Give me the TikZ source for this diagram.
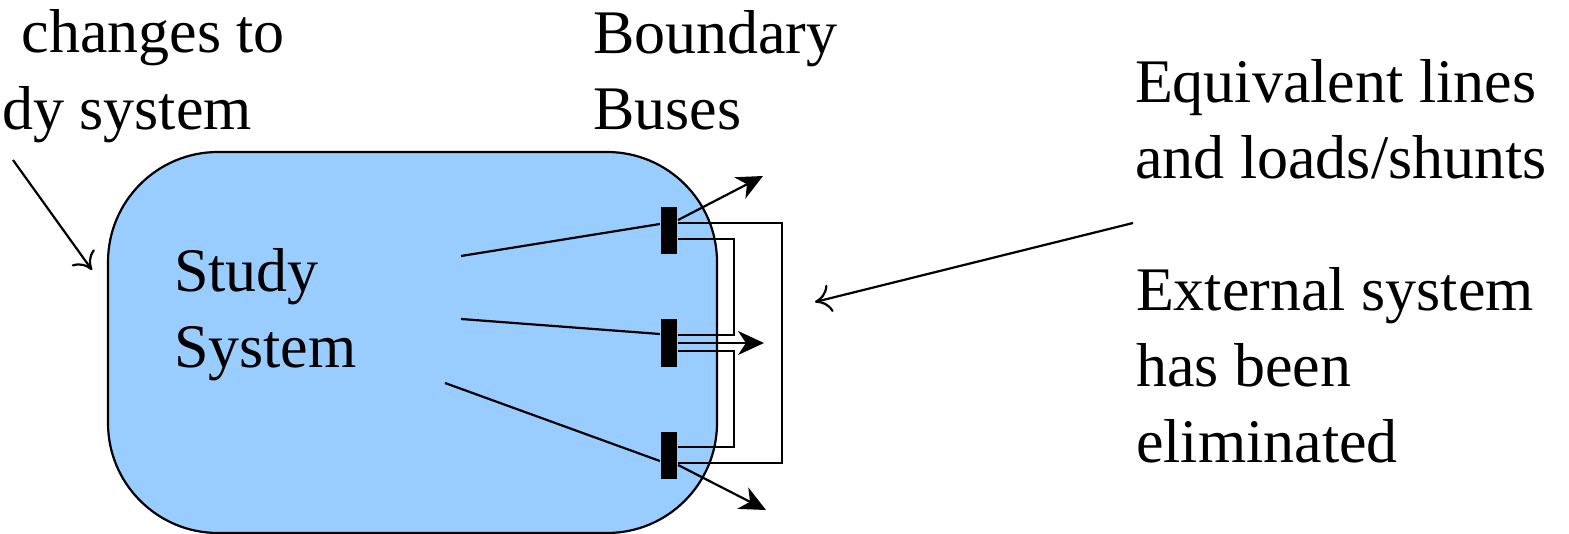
\documentclass[tikz,border=0pt]{standalone}
\usepackage{fontspec}
\setmainfont{Liberation Serif}
\usetikzlibrary{arrows.meta}
\definecolor{studyblue}{RGB}{153,204,255}

\begin{document}
\begin{tikzpicture}[x=0.5pt, y=-0.5pt, line width=1.1pt,
		every node/.style={font=\fontsize{31}{38}\selectfont, inner sep=0pt},
		bus/.style={rectangle, fill=black, minimum width=8pt, minimum height=23.5pt},
		label/.style={align=left, anchor=base west},
		flow/.style={-{Stealth[length=13pt, width=12pt, inset=4pt]}},
		pointer/.style={-{To[length=8pt, width=14pt]}}]
			\useasboundingbox (0,0) rectangle (1569,534);

			% study system area
			\draw[fill=studyblue, rounded corners=55pt] (108,152) rectangle (717,533);
			\node[label] (study) at (173,367) {Study\\System};

			% boundary buses
			\node[bus] (bus1) at (669,231) {};
			\node[bus] (bus2) at (669,343) {};
			\node[bus] (bus3) at (669,455) {};
			\node[label] (boundary) at (592,130) {Boundary\\Buses};

			% lines inside the study system
			\coordinate (in1) at (461,256);
			\coordinate (in2) at (461,319);
			\coordinate (in3) at (445,383);
			\draw (in1) -- ([yshift=3.5pt]bus1.west);
			\draw (in2) -- ([yshift=4.5pt]bus2.west);
			\draw (in3) -- ([yshift=-3pt]bus3.west);

			% flows out of the boundary buses
			\coordinate (out1) at (763,176);
			\coordinate (out2) at (764,343);
			\coordinate (out3) at (766,510);
			\draw[flow] ([yshift=5.5pt]bus1.east) -- (out1);
			\draw[flow] (bus2.east) -- (out2);
			\draw[flow] ([yshift=-5pt]bus3.east) -- (out3);

			% equivalent lines
			\draw ([yshift=4pt]bus1.east) -- ++(104,0) |- ([yshift=-4pt]bus3.east);
			\draw ([yshift=-4pt]bus1.east) -- ++(56,0) |- ([yshift=4pt]bus2.east);
			\draw ([yshift=-4pt]bus2.east) -- ++(56,0) |- ([yshift=4pt]bus3.east);

			% left remark
			\node[anchor=base east] (changes) at (286,53) {changes to};
			\node[anchor=base east] (sys) at (253,130) {dy system};
			\coordinate (cs) at (13,160);
			\coordinate (ct) at (92,270);
			\draw[pointer] (cs) -- (ct);

			% right remarks
			\node[label] (equiv) at (1134,179) {Equivalent lines\\and loads/shunts};
			\node[label] (ext) at (1135,462) {External system\\has been\\eliminated};
			\coordinate (es) at (1133,223);
			\coordinate (et) at (815,302);
			\draw[pointer] (es) -- (et);
		\end{tikzpicture}
\end{document}
